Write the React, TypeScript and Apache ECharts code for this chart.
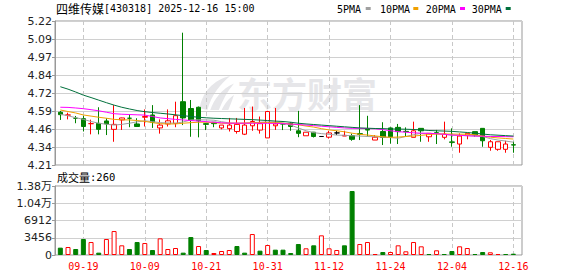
import React, { useEffect, useRef } from "react";
import * as echarts from "echarts";

const dates = [
  "09-16","09-17","09-18","09-19","09-22","09-23","09-24","09-25","09-26","09-29",
  "09-30","10-09","10-10","10-13","10-14","10-15","10-16","10-17","10-20","10-21",
  "10-22","10-23","10-24","10-27","10-28","10-29","10-30","10-31","11-03","11-04",
  "11-05","11-06","11-07","11-10","11-11","11-12","11-13","11-14","11-17","11-18",
  "11-19","11-20","11-21","11-24","11-25","11-26","11-27","11-28","12-01","12-02",
  "12-03","12-04","12-05","12-08","12-09","12-10","12-11","12-12","12-15","12-16",
];

const opens = [
  4.58, 4.56, 4.538, 4.535, 4.5, 4.502, 4.519, 4.46, 4.526, 4.538,
  4.498, 4.545, 4.561, 4.47, 4.498, 4.502, 4.654, 4.606, 4.615, 4.5,
  4.51, 4.47, 4.465, 4.445, 4.426, 4.485, 4.455, 4.4, 4.485, 4.5,
  4.502, 4.45, 4.415, 4.44, 4.41, 4.405, 4.435, 4.413, 4.416, 4.43,
  4.46, 4.385, 4.445, 4.47, 4.474, 4.446, 4.404, 4.467, 4.408, 4.436,
  4.404, 4.372, 4.357, 4.42, 4.444, 4.467, 4.334, 4.32, 4.32, 4.352,
];
const closes = [
  4.563, 4.561, 4.538, 4.48, 4.5, 4.46, 4.498, 4.495, 4.54, 4.538,
  4.48, 4.55, 4.51, 4.49, 4.52, 4.556, 4.54, 4.526, 4.52, 4.495,
  4.5, 4.49, 4.49, 4.495, 4.49, 4.515, 4.5, 4.585, 4.498, 4.497,
  4.48, 4.432, 4.44, 4.41, 4.41, 4.435, 4.435, 4.418, 4.39, 4.425,
  4.455, 4.405, 4.403, 4.408, 4.444, 4.444, 4.45, 4.45, 4.432, 4.434,
  4.427, 4.369, 4.413, 4.432, 4.42, 4.38, 4.373, 4.373, 4.357, 4.35,
];
const lows = [
  4.526, 4.53, 4.503, 4.445, 4.425, 4.425, 4.42, 4.373, 4.456, 4.475,
  4.48, 4.48, 4.47, 4.43, 4.48, 4.475, 4.49, 4.408, 4.404, 4.455,
  4.475, 4.46, 4.445, 4.43, 4.42, 4.45, 4.43, 4.4, 4.456, 4.455,
  4.45, 4.405, 4.415, 4.403, 4.41, 4.395, 4.42, 4.413, 4.38, 4.385,
  4.41, 4.385, 4.35, 4.36, 4.357, 4.408, 4.404, 4.373, 4.373, 4.357,
  4.39, 4.338, 4.296, 4.39, 4.408, 4.338, 4.31, 4.31, 4.296, 4.296,
];
const highs = [
  4.589, 4.577, 4.554, 4.555, 4.528, 4.615, 4.538, 4.63, 4.542, 4.565,
  4.538, 4.6, 4.63, 4.53, 4.6, 4.654, 5.138, 4.666, 4.62, 4.505,
  4.51, 4.49, 4.54, 4.54, 4.61, 4.62, 4.55, 4.59, 4.61, 4.502,
  4.51, 4.59, 4.44, 4.442, 4.41, 4.45, 4.45, 4.45, 4.43, 4.63,
  4.555, 4.42, 4.51, 4.474, 4.498, 4.474, 4.514, 4.467, 4.432, 4.456,
  4.514, 4.467, 4.432, 4.432, 4.444, 4.467, 4.385, 4.373, 4.38, 4.373,
];

const ma5 = [
  4.566, 4.555, 4.542, 4.53, 4.515, 4.503, 4.496, 4.49, 4.495, 4.503,
  4.513, 4.52, 4.514, 4.507, 4.505, 4.503, 4.512, 4.526, 4.527, 4.526,
  4.524, 4.514, 4.505, 4.503, 4.503, 4.505, 4.51, 4.512, 4.51, 4.505,
  4.49, 4.47, 4.45, 4.437, 4.43, 4.425, 4.42, 4.418, 4.415, 4.413,
  4.41, 4.408, 4.405, 4.402, 4.398, 4.41, 4.423, 4.432, 4.432, 4.43,
  4.425, 4.42, 4.418, 4.416, 4.413, 4.41, 4.395, 4.385, 4.378, 4.37,
];
const ma10 = [
  4.596, 4.585, 4.575, 4.561, 4.553, 4.545, 4.538, 4.53, 4.527, 4.526,
  4.522, 4.516, 4.507, 4.5, 4.498, 4.498, 4.503, 4.507, 4.51, 4.51,
  4.507, 4.503, 4.503, 4.503, 4.504, 4.507, 4.507, 4.508, 4.507, 4.503,
  4.498, 4.492, 4.483, 4.476, 4.465, 4.456, 4.45, 4.443, 4.433, 4.425,
  4.42, 4.414, 4.408, 4.404, 4.406, 4.41, 4.413, 4.418, 4.424, 4.427,
  4.427, 4.427, 4.426, 4.426, 4.422, 4.413, 4.405, 4.4, 4.396, 4.392,
];
const ma20 = [
  4.615, 4.614, 4.61, 4.605, 4.598, 4.59, 4.58, 4.57, 4.566, 4.564,
  4.562, 4.56, 4.55, 4.54, 4.535, 4.53, 4.526, 4.522, 4.518, 4.514,
  4.51, 4.506, 4.503, 4.503, 4.503, 4.503, 4.503, 4.502, 4.502, 4.5,
  4.497, 4.494, 4.49, 4.486, 4.482, 4.478, 4.474, 4.47, 4.467, 4.467,
  4.466, 4.464, 4.458, 4.45, 4.444, 4.44, 4.436, 4.433, 4.432, 4.43,
  4.425, 4.42, 4.418, 4.415, 4.413, 4.412, 4.41, 4.41, 4.409, 4.408,
];
const ma30 = [
  4.759, 4.742, 4.722, 4.7, 4.683, 4.665, 4.647, 4.63, 4.615, 4.603,
  4.592, 4.584, 4.578, 4.573, 4.568, 4.562, 4.556, 4.55, 4.545, 4.541,
  4.538, 4.536, 4.534, 4.532, 4.53, 4.528, 4.525, 4.522, 4.518, 4.515,
  4.51, 4.503, 4.498, 4.494, 4.49, 4.486, 4.482, 4.478, 4.474, 4.47,
  4.468, 4.466, 4.465, 4.463, 4.462, 4.461, 4.459, 4.456, 4.452, 4.45,
  4.448, 4.446, 4.442, 4.438, 4.433, 4.427, 4.422, 4.419, 4.416, 4.413,
];

const volumes = [
  1470, 1600, 1200, 3200, 2600, 470, 3200, 4800, 1940, 1200,
  2600, 2400, 1000, 3340, 1200, 1400, 470, 3600, 1800, 1000,
  400, 800, 1000, 1800, 470, 4200, 870, 2000, 1070, 1070,
  400, 2200, 1340, 1940, 3940, 1340, 1000, 1940, 12820, 2200,
  2600, 200, 600, 600, 1940, 740, 2600, 1740, 200, 940,
  200, 800, 1740, 1400, 200, 600, 540, 200, 200, 260,
];
const volumeUp = [
  0, 1, 0, 0, 1, 0, 1, 1, 1, 0,
  0, 1, 0, 1, 1, 1, 0, 0, 1, 0,
  1, 1, 1, 0, 0, 1, 0, 1, 0, 0,
  0, 0, 1, 0, 1, 1, 1, 0, 0, 1,
  1, 1, 0, 1, 1, 1, 1, 1, 0, 1,
  0, 0, 1, 1, 0, 0, 1, 1, 0, 0,
];

const priceTickLabels = ["4.21", "4.34", "4.46", "4.59", "4.72", "4.84", "4.97", "5.09", "5.22"];
const volumeTickLabels = ["0", "3456", "6912", "1.04万", "1.38万"];
const priceMin = 4.21;
const priceMax = 5.22;
const volumeMax = 13824;

const stockName = "四维传媒";
const stockInfo = "[430318] 2025-12-16 15:00";
const maNames = ["5PMA", "10PMA", "20PMA", "30PMA"];

const RED = "#ff0000";
const GREEN = "#008000";
const BLACK = "#000000";
const MA_COLORS = ["#a0a0a0", "#f0a000", "#ff00ff", "#00703c"];

const LOGO_D =
  "M4 36 C6 20 18 6 36 2 C26 10 16 22 12 38 Z M15 38 C19 26 28 15 40 10 C33 18 28 28 24 38 Z M27 38 C30 31 35 25 40 22 C38 28 36 33 34 38 Z";

export default function App() {
  const ref = useRef<HTMLDivElement>(null);

  useEffect(() => {
    if (!ref.current) return;
    echarts.graphic.registerShape("emLogo", echarts.graphic.extendPath(LOGO_D, {}) as any);
    const chart = echarts.init(ref.current, undefined, { renderer: "svg" });

    const candleData = opens.map((o, i) => {
      const c = closes[i];
      const item: any = { value: [o, c, lows[i], highs[i]] };
      if (o === c) {
        const prev = i > 0 ? closes[i - 1] : c;
        const col = c > prev ? RED : c < prev ? GREEN : BLACK;
        item.itemStyle = { color: col, color0: col, borderColor: col, borderColor0: col, borderColorDoji: col };
      }
      return item;
    });

    const volData = volumes.map((v, i) => ({
      value: v,
      itemStyle: volumeUp[i]
        ? { color: "#ffffff", borderColor: RED, borderWidth: 1 }
        : { color: GREEN, borderColor: GREEN, borderWidth: 1 },
    }));

    const labelDates = dates.filter((_, i) => i % 8 === 3);
    const vLines = labelDates.map((d) => ({ xAxis: d }));
    const markLineCfg = {
      silent: true,
      symbol: ["none", "none"],
      z: 1,
      label: { show: false },
      lineStyle: { color: "#c8c8c8", type: [4, 3], width: 1 },
      data: vLines,
    };

    const maSeries = [ma5, ma10, ma20, ma30].map((d, k) => ({
      type: "line",
      name: maNames[k],
      xAxisIndex: 1,
      yAxisIndex: 1,
      data: d,
      showSymbol: false,
      symbol: "none",
      z: 3,
      lineStyle: { color: MA_COLORS[k], width: 1 },
      itemStyle: { color: MA_COLORS[k] },
    }));

    const legendX = [337, 380, 425.7, 471.7];
    const markerX = [365.7, 413.3, 460, 505.7];
    const legendGraphics: any[] = [];
    maNames.forEach((n, k) => {
      legendGraphics.push({
        type: "text",
        x: legendX[k],
        y: 9,
        style: { text: n, fontFamily: "DejaVu Sans Mono", fontSize: 10, fill: "#000", verticalAlign: "middle" },
      });
      legendGraphics.push({
        type: "rect",
        shape: { x: markerX[k], y: 7, width: 5, height: 3 },
        style: { fill: MA_COLORS[k] },
      });
    });

    const option: any = {
      animation: false,
      backgroundColor: "#ffffff",
      grid: [
        { left: 55, top: 21, width: 467, height: 144, show: true, borderColor: "#999", borderWidth: 1, backgroundColor: "transparent" },
        { left: 56.5, top: 21, width: 460.7, height: 144, show: false },
        { left: 55, top: 186, width: 467, height: 69, show: true, borderColor: "#999", borderWidth: 1, backgroundColor: "transparent" },
        { left: 56.5, top: 186, width: 460.7, height: 69, show: false },
      ],
      xAxis: [
        { gridIndex: 0, type: "value", min: 0, max: 1, show: false },
        { gridIndex: 1, type: "category", data: dates, boundaryGap: true, show: false },
        { gridIndex: 2, type: "value", min: 0, max: 1, show: false },
        {
          gridIndex: 3,
          type: "category",
          data: dates,
          boundaryGap: true,
          axisLine: { show: false },
          axisTick: { show: false },
          splitLine: { show: false },
          axisLabel: {
            interval: (i: number) => i % 8 === 3,
            color: RED,
            fontFamily: "DejaVu Sans Mono",
            fontSize: 10,
            margin: 6,
          },
        },
      ],
      yAxis: [
        {
          gridIndex: 0,
          type: "value",
          min: 0,
          max: priceTickLabels.length - 1,
          interval: 1,
          axisLine: { show: true, lineStyle: { color: "#999" } },
          axisTick: { show: true, length: 3, lineStyle: { color: "#999" } },
          splitLine: { show: true, lineStyle: { color: "#d0d0d0", width: 1 } },
          axisLabel: {
            formatter: (v: number) => priceTickLabels[Math.round(v)],
            color: "#222",
            fontFamily: "DejaVu Sans",
            fontSize: 11,
            margin: 3,
          },
        },
        { gridIndex: 1, type: "value", min: priceMin, max: priceMax, show: false, splitLine: { show: false } },
        {
          gridIndex: 2,
          type: "value",
          min: 0,
          max: volumeTickLabels.length - 1,
          interval: 1,
          axisLine: { show: true, lineStyle: { color: "#999" } },
          axisTick: { show: true, length: 3, lineStyle: { color: "#999" } },
          splitLine: { show: true, lineStyle: { color: "#d0d0d0", width: 1 } },
          axisLabel: {
            formatter: (v: number) => volumeTickLabels[Math.round(v)],
            color: "#222",
            fontFamily: "DejaVu Sans, Noto Sans CJK SC",
            fontSize: 11,
            margin: 3,
          },
        },
        { gridIndex: 3, type: "value", min: 0, max: volumeMax, show: false, splitLine: { show: false } },
      ],
      series: [
        {
          type: "candlestick",
          name: stockName,
          xAxisIndex: 1,
          yAxisIndex: 1,
          data: candleData,
          barWidth: 5,
          z: 2,
          itemStyle: {
            color: "#ffffff",
            color0: GREEN,
            borderColor: RED,
            borderColor0: GREEN,
            borderColorDoji: BLACK,
            borderWidth: 1,
          },
          markLine: markLineCfg,
        },
        ...maSeries,
        {
          type: "bar",
          name: "成交量",
          xAxisIndex: 3,
          yAxisIndex: 3,
          data: volData,
          barWidth: 5,
          z: 2,
          markLine: markLineCfg,
        },
      ],
      graphic: [
        {
          type: "group",
          z: 0,
          silent: true,
          children: [
            {
              type: "emLogo",
              x: 196,
              y: 74,
              scaleX: 0.95,
              scaleY: 0.95,
              style: { fill: "#e6e6e9" },
            },
            {
              type: "text",
              x: 237,
              y: 92,
              style: {
                text: "东方财富",
                fontFamily: "Noto Sans CJK SC",
                fontWeight: "bold",
                fontSize: 35,
                fill: "#e6e6e9",
                verticalAlign: "middle",
              },
            },
          ],
        },
        {
          type: "text",
          x: 56,
          y: 8,
          style: {
            text: `{c|${stockName}}{a|${stockInfo}}`,
            verticalAlign: "middle",
            rich: {
              c: { fontFamily: "Noto Sans CJK SC", fontSize: 12, fill: "#000" },
              a: { fontFamily: "DejaVu Sans Mono", fontSize: 10, fill: "#000" },
            },
          },
        },
        {
          type: "text",
          x: 57,
          y: 177,
          style: {
            text: `{c|成交量}{a|:${volumes[volumes.length - 1]}}`,
            verticalAlign: "middle",
            rich: {
              c: { fontFamily: "Noto Sans CJK SC", fontSize: 11, fill: "#000" },
              a: { fontFamily: "DejaVu Sans Mono", fontSize: 10.5, fill: "#000" },
            },
          },
        },
        ...legendGraphics,
      ],
    };

    chart.setOption(option);
    return () => chart.dispose();
  }, []);

  return (
    <div
      ref={ref}
      style={{ position: "fixed", left: 0, top: 0, width: 578, height: 276, background: "#fff" }}
    />
  );
}
